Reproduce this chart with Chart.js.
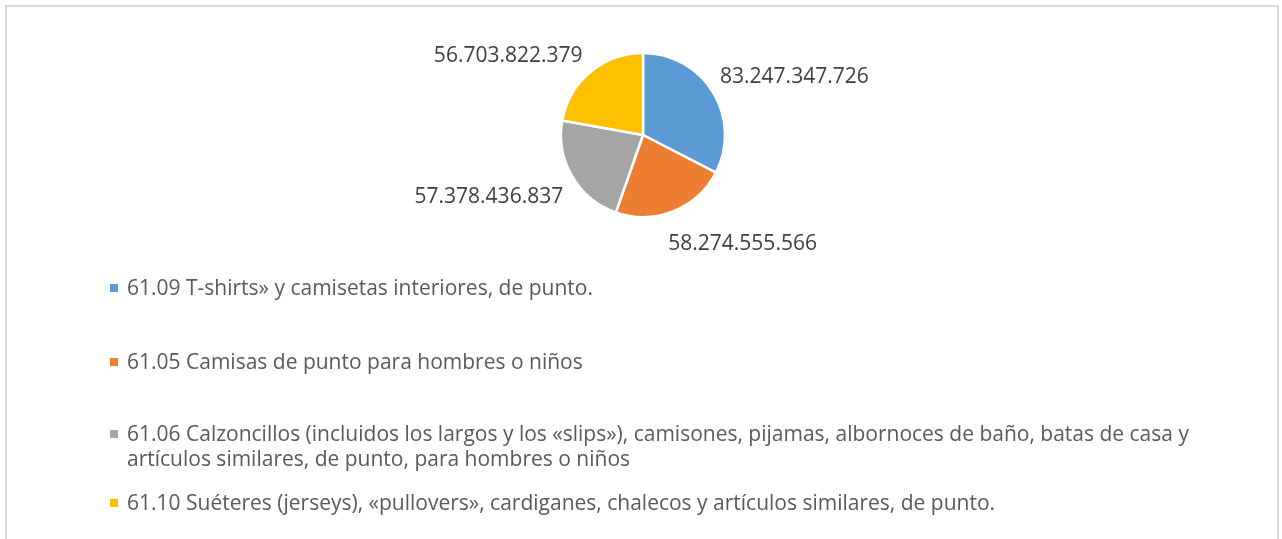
<!DOCTYPE html>
<html>
<head>
<meta charset="utf-8">
<script src="https://cdn.jsdelivr.net/npm/chart.js@4.4.1/dist/chart.umd.min.js"></script>
<style>
  html, body { margin: 0; padding: 0; background: #fff; overflow: hidden; }
  #marco {
    position: absolute; left: 5px; top: 5px; width: 1274px; height: 560px;
    border: 2px solid #d9d9d9; box-sizing: border-box;
  }
  #caja { position: absolute; left: 0; top: 0; width: 1282px; height: 539px; }
</style>
</head>
<body>
<div id="marco"></div>
<div id="caja"><canvas id="graficaPie"></canvas></div>
<script>
// ======================
// DATOS
// ======================
const categorias = [
    "61.09 T-shirts» y camisetas interiores, de punto.",
    "61.05 Camisas de punto para hombres o niños",
    ["61.06 Calzoncillos (incluidos los largos y los «slips»), camisones, pijamas, albornoces de baño, batas de casa y",
     "artículos similares, de punto, para hombres o niños"],
    "61.10 Suéteres (jerseys), «pullovers», cardiganes, chalecos y artículos similares, de punto."
];
const valores = [83247347726, 58274555566, 57378436837, 56703822379];
const colores = ["#5b9bd5", "#ed7d31", "#a5a5a5", "#ffc000"];

function formatoMiles(n) {
    return String(n).replace(/\B(?=(\d{3})+(?!\d))/g, ".");
}

// ======================
// ETIQUETAS DE VALOR
// ======================
const etiquetasPlugin = {
    id: "etiquetas",
    afterDatasetsDraw(chart, args, opts) {
        const ctx = chart.ctx;
        const meta = chart.getDatasetMeta(0);
        ctx.save();
        ctx.font = opts.font;
        ctx.fillStyle = opts.color;
        ctx.textAlign = "center";
        ctx.textBaseline = "middle";
        meta.data.forEach((arc, i) => {
            const p = arc.getProps(["x", "y", "startAngle", "endAngle", "outerRadius"], true);
            const mid = (p.startAngle + p.endAngle) / 2;
            const texto = formatoMiles(chart.data.datasets[0].data[i]);
            const w = ctx.measureText(texto).width / 2;
            const r = p.outerRadius + opts.distancia;
            const ajuste = opts.ajustes[i] || [0, 0];
            const cx = p.x + Math.cos(mid) * (r + w) + ajuste[0];
            const cy = p.y + Math.sin(mid) * (r + opts.medioAlto) + ajuste[1];
            ctx.fillText(texto, cx, cy);
        });
        ctx.restore();
    }
};

// ======================
// LEYENDA
// ======================
const leyendaPlugin = {
    id: "leyenda",
    afterDraw(chart, args, opts) {
        const ctx = chart.ctx;
        const labels = chart.data.labels;
        const bg = chart.data.datasets[0].backgroundColor;
        ctx.save();
        ctx.font = opts.font;
        ctx.textAlign = "left";
        ctx.textBaseline = "middle";
        labels.forEach((lab, i) => {
            const y = opts.filas[i];
            ctx.fillStyle = bg[i];
            ctx.fillRect(opts.x, y - 5, 8, 8);
            ctx.fillStyle = opts.color;
            const lineas = Array.isArray(lab) ? lab : [lab];
            lineas.forEach((linea, j) => {
                ctx.fillText(linea, opts.x + 17, y + j * opts.interlineado);
            });
        });
        ctx.restore();
    }
};

const ctx = document.getElementById("graficaPie").getContext("2d");
new Chart(ctx, {
    type: "pie",
    data: {
        labels: categorias,
        datasets: [{
            data: valores,
            backgroundColor: colores,
            borderColor: "#ffffff",
            borderWidth: 2.5,
            hoverOffset: 0
        }]
    },
    options: {
        responsive: true,
        maintainAspectRatio: false,
        animation: false,
        radius: 82,
        layout: { padding: { left: 561, right: 557, top: 53, bottom: 322 } },
        plugins: {
            legend: { display: false },
            tooltip: { enabled: false },
            etiquetas: {
                font: "21px 'Open Sans'",
                color: "#404040",
                distancia: 21,
                medioAlto: 11,
                ajustes: [[0, 1], [34, 3], [-1, 5], [-21, 8]]
            },
            leyenda: {
                font: "21px 'Open Sans'",
                color: "#595959",
                x: 110,
                filas: [289, 363, 435, 504],
                interlineado: 25
            }
        }
    },
    plugins: [etiquetasPlugin, leyendaPlugin]
});
</script>
</body>
</html>
